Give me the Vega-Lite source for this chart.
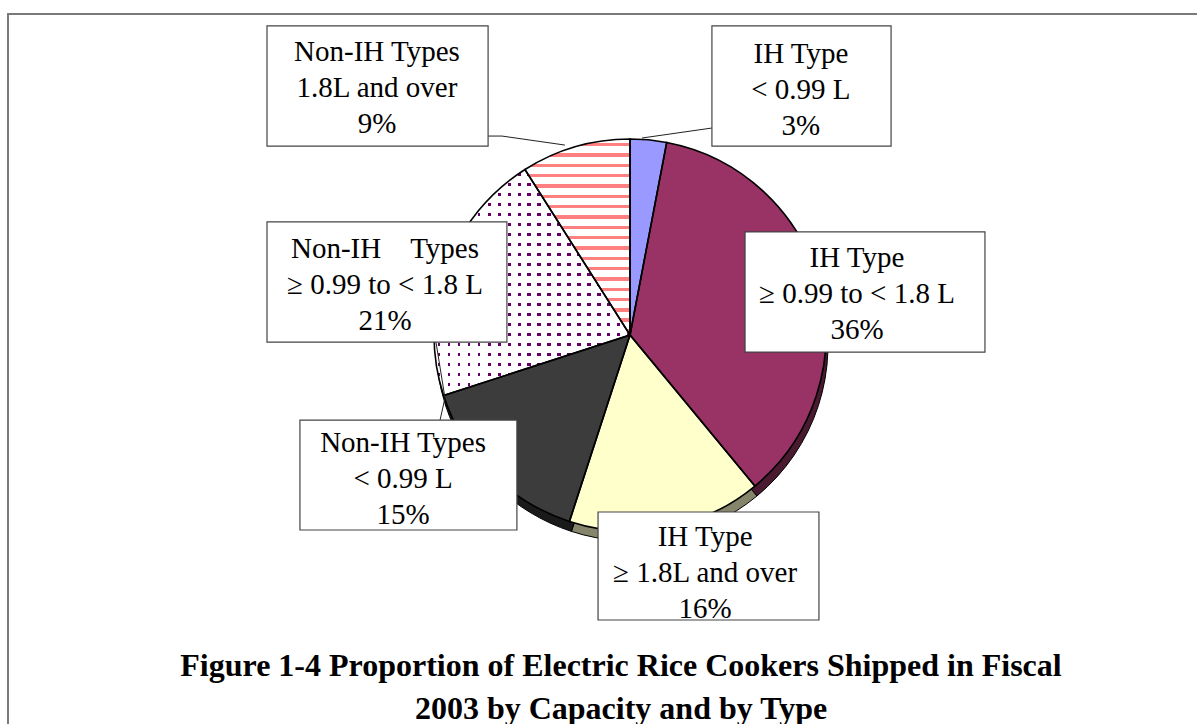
{
  "$schema": "https://vega.github.io/schema/vega-lite/v6.json",
  "width": 1200,
  "height": 720,
  "autosize": {"type": "none"},
  "padding": {"left": 8, "top": 14, "right": 0, "bottom": 0},
  "background": "white",
  "config": {"view": {"stroke": "#7a7a7a", "strokeWidth": 2}, "font": "Liberation Serif"},
  "title": {
    "text": ["Figure 1-4 Proportion of Electric Rice Cookers Shipped in Fiscal", "2003 by Capacity and by Type"],
    "orient": "bottom",
    "anchor": "middle",
    "offset": -58,
    "dx": 13,
    "baseline": "alphabetic",
    "font": "Liberation Serif",
    "fontSize": 32,
    "fontWeight": "bold",
    "color": "#000000",
    "lineHeight": 43
  },
  "resolve": {"scale": {"fill": "independent"}},
  "datasets": {
    "slices": [
      {"id": "ih_s", "type": "IH Type", "capacity": "< 0.99 L", "share": 3, "ord": 1},
      {"id": "ih_m", "type": "IH Type", "capacity": "≥ 0.99 to < 1.8 L", "share": 36, "ord": 2},
      {"id": "ih_l", "type": "IH Type", "capacity": "≥ 1.8L and over", "share": 16, "ord": 3},
      {"id": "nh_s", "type": "Non-IH Types", "capacity": "< 0.99 L", "share": 15, "ord": 4},
      {"id": "nh_m", "type": "Non-IH Types", "capacity": "≥ 0.99 to < 1.8 L", "share": 21, "ord": 5},
      {"id": "nh_l", "type": "Non-IH Types", "capacity": "1.8L and over", "share": 9, "ord": 6}
    ],
    "callouts": [
      {"id": "nh_l", "text": "Non-IH Types\n1.8L and over\n9%", "x1": -1.852, "x2": -0.724, "y1": 1.577, "y2": 0.964, "tx": -1.291, "ty": 1.444},
      {"id": "ih_s", "text": "IH Type\n< 0.99 L\n3%", "x1": 0.418, "x2": 1.332, "y1": 1.577, "y2": 0.964, "tx": 0.872, "ty": 1.434},
      {"id": "ih_m", "text": "IH Type\n≥ 0.99 to < 1.8 L\n36%", "x1": 0.587, "x2": 1.811, "y1": 0.526, "y2": -0.087, "tx": 1.158, "ty": 0.393},
      {"id": "nh_m", "text": "Non-IH\u00a0\u00a0\u00a0\u00a0Types\n≥ 0.99 to < 1.8 L\n21%", "x1": -1.852, "x2": -0.628, "y1": 0.577, "y2": -0.036, "tx": -1.25, "ty": 0.439},
      {"id": "nh_s", "text": "Non-IH Types\n< 0.99 L\n15%", "x1": -1.684, "x2": -0.577, "y1": -0.434, "y2": -0.995, "tx": -1.158, "ty": -0.551},
      {"id": "ih_l", "text": "IH Type\n≥ 1.8L and over\n16%", "x1": -0.163, "x2": 0.964, "y1": -0.903, "y2": -1.454, "tx": 0.383, "ty": -1.031}
    ],
    "leaders": [
      {"x1": -0.724, "y1": 1.015, "x2": -0.653, "y2": 1.015},
      {"x1": -0.653, "y1": 1.015, "x2": -0.332, "y2": 0.969},
      {"x1": 0.418, "y1": 1.056, "x2": 0.061, "y2": 1.005},
      {"x1": -0.99, "y1": -0.036, "x2": -0.944, "y2": -0.321},
      {"x1": -0.969, "y1": -0.434, "x2": -0.944, "y2": -0.321}
    ]
  },
  "layer": [
    {
      "data": {"name": "slices"},
      "mark": {"type": "arc", "outerRadius": 196, "stroke": "#000000", "strokeWidth": 1},
      "encoding": {
        "x": {"datum": 0.0102, "type": "quantitative", "scale": {"domain": [-3.17347, 2.94898], "nice": false, "zero": false}, "axis": null},
        "y": {"datum": -0.051, "type": "quantitative", "scale": {"domain": [-2.03571, 1.63776], "nice": false, "zero": false}, "axis": null},
        "theta": {"field": "share", "type": "quantitative", "stack": true},
        "order": {"field": "ord", "type": "quantitative"},
        "fill": {"field": "id", "type": "nominal", "legend": null,
          "scale": {"domain": ["ih_s", "ih_m", "ih_l", "nh_s", "nh_m", "nh_l"],
                    "range": ["#4d4d80", "#4a1a30", "#85856c", "#1a1a1a", "#330033", "#808080"]}}
      }
    },
    {
      "data": {"name": "slices"},
      "mark": {"type": "arc", "outerRadius": 196, "strokeWidth": 0},
      "encoding": {
        "x": {"datum": 0, "type": "quantitative"},
        "y": {"datum": 0, "type": "quantitative"},
        "theta": {"field": "share", "type": "quantitative", "stack": true},
        "order": {"field": "ord", "type": "quantitative"},
        "fill": {"field": "segment", "type": "nominal", "legend": null,
          "scale": {"domain": ["IH Type|< 0.99 L", "IH Type|≥ 0.99 to < 1.8 L", "IH Type|≥ 1.8L and over", "Non-IH Types|< 0.99 L", "Non-IH Types|≥ 0.99 to < 1.8 L", "Non-IH Types|1.8L and over"],
                    "range": ["#9999ff", "#993366", "#ffffcc", "#3c3c3c", "#660066", "#ffffff"]}}
      },
      "transform": [{"calculate": "datum.type + '|' + datum.capacity", "as": "segment"}]
    },
    {
      "data": {"name": "slices"},
      "mark": {"type": "arc", "outerRadius": 196, "strokeWidth": 0},
      "encoding": {
        "x": {"datum": 0, "type": "quantitative"},
        "y": {"datum": 0, "type": "quantitative"},
        "theta": {"field": "share", "type": "quantitative", "stack": true},
        "order": {"field": "ord", "type": "quantitative"},
        "fill": {
          "condition": [
            {"test": "datum.id === 'nh_m'", "value": {"gradient": "linear", "x1": 0, "y1": 0, "x2": 0, "y2": 1, "stops": [
              {"offset": 0, "color": "#ffffff"},
              {"offset": 0.01548, "color": "#ffffff"}, {"offset": 0.01548, "color": "rgba(255,255,255,0)"}, {"offset": 0.02875, "color": "rgba(255,255,255,0)"}, {"offset": 0.02875, "color": "#ffffff"},
              {"offset": 0.05971, "color": "#ffffff"}, {"offset": 0.05971, "color": "rgba(255,255,255,0)"}, {"offset": 0.07298, "color": "rgba(255,255,255,0)"}, {"offset": 0.07298, "color": "#ffffff"},
              {"offset": 0.10394, "color": "#ffffff"}, {"offset": 0.10394, "color": "rgba(255,255,255,0)"}, {"offset": 0.11721, "color": "rgba(255,255,255,0)"}, {"offset": 0.11721, "color": "#ffffff"},
              {"offset": 0.14817, "color": "#ffffff"}, {"offset": 0.14817, "color": "rgba(255,255,255,0)"}, {"offset": 0.16143, "color": "rgba(255,255,255,0)"}, {"offset": 0.16143, "color": "#ffffff"},
              {"offset": 0.1924, "color": "#ffffff"}, {"offset": 0.1924, "color": "rgba(255,255,255,0)"}, {"offset": 0.20566, "color": "rgba(255,255,255,0)"}, {"offset": 0.20566, "color": "#ffffff"},
              {"offset": 0.23662, "color": "#ffffff"}, {"offset": 0.23662, "color": "rgba(255,255,255,0)"}, {"offset": 0.24989, "color": "rgba(255,255,255,0)"}, {"offset": 0.24989, "color": "#ffffff"},
              {"offset": 0.28085, "color": "#ffffff"}, {"offset": 0.28085, "color": "rgba(255,255,255,0)"}, {"offset": 0.29412, "color": "rgba(255,255,255,0)"}, {"offset": 0.29412, "color": "#ffffff"},
              {"offset": 0.32508, "color": "#ffffff"}, {"offset": 0.32508, "color": "rgba(255,255,255,0)"}, {"offset": 0.33835, "color": "rgba(255,255,255,0)"}, {"offset": 0.33835, "color": "#ffffff"},
              {"offset": 0.36931, "color": "#ffffff"}, {"offset": 0.36931, "color": "rgba(255,255,255,0)"}, {"offset": 0.38257, "color": "rgba(255,255,255,0)"}, {"offset": 0.38257, "color": "#ffffff"},
              {"offset": 0.41354, "color": "#ffffff"}, {"offset": 0.41354, "color": "rgba(255,255,255,0)"}, {"offset": 0.4268, "color": "rgba(255,255,255,0)"}, {"offset": 0.4268, "color": "#ffffff"},
              {"offset": 0.45776, "color": "#ffffff"}, {"offset": 0.45776, "color": "rgba(255,255,255,0)"}, {"offset": 0.47103, "color": "rgba(255,255,255,0)"}, {"offset": 0.47103, "color": "#ffffff"},
              {"offset": 0.50199, "color": "#ffffff"}, {"offset": 0.50199, "color": "rgba(255,255,255,0)"}, {"offset": 0.51526, "color": "rgba(255,255,255,0)"}, {"offset": 0.51526, "color": "#ffffff"},
              {"offset": 0.54622, "color": "#ffffff"}, {"offset": 0.54622, "color": "rgba(255,255,255,0)"}, {"offset": 0.55949, "color": "rgba(255,255,255,0)"}, {"offset": 0.55949, "color": "#ffffff"},
              {"offset": 0.59045, "color": "#ffffff"}, {"offset": 0.59045, "color": "rgba(255,255,255,0)"}, {"offset": 0.60371, "color": "rgba(255,255,255,0)"}, {"offset": 0.60371, "color": "#ffffff"},
              {"offset": 0.63468, "color": "#ffffff"}, {"offset": 0.63468, "color": "rgba(255,255,255,0)"}, {"offset": 0.64794, "color": "rgba(255,255,255,0)"}, {"offset": 0.64794, "color": "#ffffff"},
              {"offset": 0.6789, "color": "#ffffff"}, {"offset": 0.6789, "color": "rgba(255,255,255,0)"}, {"offset": 0.69217, "color": "rgba(255,255,255,0)"}, {"offset": 0.69217, "color": "#ffffff"},
              {"offset": 0.72313, "color": "#ffffff"}, {"offset": 0.72313, "color": "rgba(255,255,255,0)"}, {"offset": 0.7364, "color": "rgba(255,255,255,0)"}, {"offset": 0.7364, "color": "#ffffff"},
              {"offset": 0.76736, "color": "#ffffff"}, {"offset": 0.76736, "color": "rgba(255,255,255,0)"}, {"offset": 0.78063, "color": "rgba(255,255,255,0)"}, {"offset": 0.78063, "color": "#ffffff"},
              {"offset": 0.81159, "color": "#ffffff"}, {"offset": 0.81159, "color": "rgba(255,255,255,0)"}, {"offset": 0.82485, "color": "rgba(255,255,255,0)"}, {"offset": 0.82485, "color": "#ffffff"},
              {"offset": 0.85582, "color": "#ffffff"}, {"offset": 0.85582, "color": "rgba(255,255,255,0)"}, {"offset": 0.86908, "color": "rgba(255,255,255,0)"}, {"offset": 0.86908, "color": "#ffffff"},
              {"offset": 0.90004, "color": "#ffffff"}, {"offset": 0.90004, "color": "rgba(255,255,255,0)"}, {"offset": 0.91331, "color": "rgba(255,255,255,0)"}, {"offset": 0.91331, "color": "#ffffff"},
              {"offset": 0.94427, "color": "#ffffff"}, {"offset": 0.94427, "color": "rgba(255,255,255,0)"}, {"offset": 0.95754, "color": "rgba(255,255,255,0)"}, {"offset": 0.95754, "color": "#ffffff"},
              {"offset": 0.9885, "color": "#ffffff"}, {"offset": 0.9885, "color": "rgba(255,255,255,0)"}, {"offset": 1, "color": "rgba(255,255,255,0)"}
            ]}},
            {"test": "datum.id === 'nh_l'", "value": {"gradient": "linear", "x1": 0, "y1": 0, "x2": 0, "y2": 1, "stops": [
              {"offset": 0, "color": "#ffffff"},
              {"offset": 0.0207, "color": "#ffffff"}, {"offset": 0.0207, "color": "#ff8080"}, {"offset": 0.0377, "color": "#ff8080"}, {"offset": 0.0377, "color": "#ffffff"},
              {"offset": 0.0734, "color": "#ffffff"}, {"offset": 0.0734, "color": "#ff8080"}, {"offset": 0.0904, "color": "#ff8080"}, {"offset": 0.0904, "color": "#ffffff"},
              {"offset": 0.126, "color": "#ffffff"}, {"offset": 0.126, "color": "#ff8080"}, {"offset": 0.143, "color": "#ff8080"}, {"offset": 0.143, "color": "#ffffff"},
              {"offset": 0.1787, "color": "#ffffff"}, {"offset": 0.1787, "color": "#ff8080"}, {"offset": 0.1957, "color": "#ff8080"}, {"offset": 0.1957, "color": "#ffffff"},
              {"offset": 0.2313, "color": "#ffffff"}, {"offset": 0.2313, "color": "#ff8080"}, {"offset": 0.2483, "color": "#ff8080"}, {"offset": 0.2483, "color": "#ffffff"},
              {"offset": 0.284, "color": "#ffffff"}, {"offset": 0.284, "color": "#ff8080"}, {"offset": 0.301, "color": "#ff8080"}, {"offset": 0.301, "color": "#ffffff"},
              {"offset": 0.3366, "color": "#ffffff"}, {"offset": 0.3366, "color": "#ff8080"}, {"offset": 0.3536, "color": "#ff8080"}, {"offset": 0.3536, "color": "#ffffff"},
              {"offset": 0.3893, "color": "#ffffff"}, {"offset": 0.3893, "color": "#ff8080"}, {"offset": 0.4063, "color": "#ff8080"}, {"offset": 0.4063, "color": "#ffffff"},
              {"offset": 0.4419, "color": "#ffffff"}, {"offset": 0.4419, "color": "#ff8080"}, {"offset": 0.4589, "color": "#ff8080"}, {"offset": 0.4589, "color": "#ffffff"},
              {"offset": 0.4946, "color": "#ffffff"}, {"offset": 0.4946, "color": "#ff8080"}, {"offset": 0.5116, "color": "#ff8080"}, {"offset": 0.5116, "color": "#ffffff"},
              {"offset": 0.5472, "color": "#ffffff"}, {"offset": 0.5472, "color": "#ff8080"}, {"offset": 0.5642, "color": "#ff8080"}, {"offset": 0.5642, "color": "#ffffff"},
              {"offset": 0.5999, "color": "#ffffff"}, {"offset": 0.5999, "color": "#ff8080"}, {"offset": 0.6169, "color": "#ff8080"}, {"offset": 0.6169, "color": "#ffffff"},
              {"offset": 0.6525, "color": "#ffffff"}, {"offset": 0.6525, "color": "#ff8080"}, {"offset": 0.6695, "color": "#ff8080"}, {"offset": 0.6695, "color": "#ffffff"},
              {"offset": 0.7052, "color": "#ffffff"}, {"offset": 0.7052, "color": "#ff8080"}, {"offset": 0.7222, "color": "#ff8080"}, {"offset": 0.7222, "color": "#ffffff"},
              {"offset": 0.7578, "color": "#ffffff"}, {"offset": 0.7578, "color": "#ff8080"}, {"offset": 0.7748, "color": "#ff8080"}, {"offset": 0.7748, "color": "#ffffff"},
              {"offset": 0.8105, "color": "#ffffff"}, {"offset": 0.8105, "color": "#ff8080"}, {"offset": 0.8275, "color": "#ff8080"}, {"offset": 0.8275, "color": "#ffffff"},
              {"offset": 0.8631, "color": "#ffffff"}, {"offset": 0.8631, "color": "#ff8080"}, {"offset": 0.8801, "color": "#ff8080"}, {"offset": 0.8801, "color": "#ffffff"},
              {"offset": 0.9158, "color": "#ffffff"}, {"offset": 0.9158, "color": "#ff8080"}, {"offset": 0.9328, "color": "#ff8080"}, {"offset": 0.9328, "color": "#ffffff"},
              {"offset": 0.9684, "color": "#ffffff"}, {"offset": 0.9684, "color": "#ff8080"}, {"offset": 0.9854, "color": "#ff8080"}, {"offset": 0.9854, "color": "#ffffff"},
              {"offset": 1, "color": "#ffffff"}
            ]}}
          ],
          "value": "transparent"
        }
      }
    },
    {
      "data": {"name": "slices"},
      "mark": {"type": "arc", "outerRadius": 196, "strokeWidth": 0},
      "encoding": {
        "x": {"datum": 0, "type": "quantitative"},
        "y": {"datum": 0, "type": "quantitative"},
        "theta": {"field": "share", "type": "quantitative", "stack": true},
        "order": {"field": "ord", "type": "quantitative"},
        "fill": {
          "condition": [
            {"test": "datum.id === 'nh_m'", "value": {"gradient": "linear", "x1": 0, "y1": 0, "x2": 1, "y2": 0, "stops": [
              {"offset": 0, "color": "#ffffff"},
              {"offset": 0.01786, "color": "#ffffff"}, {"offset": 0.01786, "color": "rgba(255,255,255,0)"}, {"offset": 0.03316, "color": "rgba(255,255,255,0)"}, {"offset": 0.03316, "color": "#ffffff"},
              {"offset": 0.06888, "color": "#ffffff"}, {"offset": 0.06888, "color": "rgba(255,255,255,0)"}, {"offset": 0.08418, "color": "rgba(255,255,255,0)"}, {"offset": 0.08418, "color": "#ffffff"},
              {"offset": 0.1199, "color": "#ffffff"}, {"offset": 0.1199, "color": "rgba(255,255,255,0)"}, {"offset": 0.1352, "color": "rgba(255,255,255,0)"}, {"offset": 0.1352, "color": "#ffffff"},
              {"offset": 0.17092, "color": "#ffffff"}, {"offset": 0.17092, "color": "rgba(255,255,255,0)"}, {"offset": 0.18622, "color": "rgba(255,255,255,0)"}, {"offset": 0.18622, "color": "#ffffff"},
              {"offset": 0.22194, "color": "#ffffff"}, {"offset": 0.22194, "color": "rgba(255,255,255,0)"}, {"offset": 0.23724, "color": "rgba(255,255,255,0)"}, {"offset": 0.23724, "color": "#ffffff"},
              {"offset": 0.27296, "color": "#ffffff"}, {"offset": 0.27296, "color": "rgba(255,255,255,0)"}, {"offset": 0.28827, "color": "rgba(255,255,255,0)"}, {"offset": 0.28827, "color": "#ffffff"},
              {"offset": 0.32398, "color": "#ffffff"}, {"offset": 0.32398, "color": "rgba(255,255,255,0)"}, {"offset": 0.33929, "color": "rgba(255,255,255,0)"}, {"offset": 0.33929, "color": "#ffffff"},
              {"offset": 0.375, "color": "#ffffff"}, {"offset": 0.375, "color": "rgba(255,255,255,0)"}, {"offset": 0.39031, "color": "rgba(255,255,255,0)"}, {"offset": 0.39031, "color": "#ffffff"},
              {"offset": 0.42602, "color": "#ffffff"}, {"offset": 0.42602, "color": "rgba(255,255,255,0)"}, {"offset": 0.44133, "color": "rgba(255,255,255,0)"}, {"offset": 0.44133, "color": "#ffffff"},
              {"offset": 0.47704, "color": "#ffffff"}, {"offset": 0.47704, "color": "rgba(255,255,255,0)"}, {"offset": 0.49235, "color": "rgba(255,255,255,0)"}, {"offset": 0.49235, "color": "#ffffff"},
              {"offset": 0.52806, "color": "#ffffff"}, {"offset": 0.52806, "color": "rgba(255,255,255,0)"}, {"offset": 0.54337, "color": "rgba(255,255,255,0)"}, {"offset": 0.54337, "color": "#ffffff"},
              {"offset": 0.57908, "color": "#ffffff"}, {"offset": 0.57908, "color": "rgba(255,255,255,0)"}, {"offset": 0.59439, "color": "rgba(255,255,255,0)"}, {"offset": 0.59439, "color": "#ffffff"},
              {"offset": 0.6301, "color": "#ffffff"}, {"offset": 0.6301, "color": "rgba(255,255,255,0)"}, {"offset": 0.64541, "color": "rgba(255,255,255,0)"}, {"offset": 0.64541, "color": "#ffffff"},
              {"offset": 0.68112, "color": "#ffffff"}, {"offset": 0.68112, "color": "rgba(255,255,255,0)"}, {"offset": 0.69643, "color": "rgba(255,255,255,0)"}, {"offset": 0.69643, "color": "#ffffff"},
              {"offset": 0.73214, "color": "#ffffff"}, {"offset": 0.73214, "color": "rgba(255,255,255,0)"}, {"offset": 0.74745, "color": "rgba(255,255,255,0)"}, {"offset": 0.74745, "color": "#ffffff"},
              {"offset": 0.78316, "color": "#ffffff"}, {"offset": 0.78316, "color": "rgba(255,255,255,0)"}, {"offset": 0.79847, "color": "rgba(255,255,255,0)"}, {"offset": 0.79847, "color": "#ffffff"},
              {"offset": 0.83418, "color": "#ffffff"}, {"offset": 0.83418, "color": "rgba(255,255,255,0)"}, {"offset": 0.84949, "color": "rgba(255,255,255,0)"}, {"offset": 0.84949, "color": "#ffffff"},
              {"offset": 0.8852, "color": "#ffffff"}, {"offset": 0.8852, "color": "rgba(255,255,255,0)"}, {"offset": 0.90051, "color": "rgba(255,255,255,0)"}, {"offset": 0.90051, "color": "#ffffff"},
              {"offset": 0.93622, "color": "#ffffff"}, {"offset": 0.93622, "color": "rgba(255,255,255,0)"}, {"offset": 0.95153, "color": "rgba(255,255,255,0)"}, {"offset": 0.95153, "color": "#ffffff"},
              {"offset": 0.98724, "color": "#ffffff"}, {"offset": 0.98724, "color": "rgba(255,255,255,0)"}, {"offset": 1, "color": "rgba(255,255,255,0)"}
            ]}}
          ],
          "value": "transparent"
        }
      }
    },
    {
      "data": {"name": "slices"},
      "mark": {"type": "arc", "outerRadius": 196, "fillOpacity": 0, "stroke": "#000000", "strokeWidth": 1.6},
      "encoding": {
        "x": {"datum": 0, "type": "quantitative"},
        "y": {"datum": 0, "type": "quantitative"},
        "theta": {"field": "share", "type": "quantitative", "stack": true},
        "order": {"field": "ord", "type": "quantitative"},
        "detail": {"field": "id", "type": "nominal"}
      }
    },
    {
      "data": {"name": "leaders"},
      "mark": {"type": "rule", "color": "#222222", "strokeWidth": 1},
      "encoding": {
        "x": {"field": "x1", "type": "quantitative"},
        "y": {"field": "y1", "type": "quantitative"},
        "x2": {"field": "x2"},
        "y2": {"field": "y2"}
      }
    },
    {
      "data": {"name": "callouts"},
      "mark": {"type": "rect", "fill": "#ffffff", "stroke": "#444444", "strokeWidth": 1.2},
      "encoding": {
        "x": {"field": "x1", "type": "quantitative"},
        "x2": {"field": "x2"},
        "y": {"field": "y1", "type": "quantitative"},
        "y2": {"field": "y2"}
      }
    },
    {
      "data": {"name": "callouts"},
      "mark": {"type": "text", "font": "Liberation Serif", "fontSize": 29, "color": "#000000", "align": "center", "baseline": "middle", "lineBreak": "\n", "lineHeight": 36},
      "encoding": {
        "x": {"field": "tx", "type": "quantitative"},
        "y": {"field": "ty", "type": "quantitative"},
        "text": {"field": "text", "type": "nominal"}
      }
    }
  ]
}
